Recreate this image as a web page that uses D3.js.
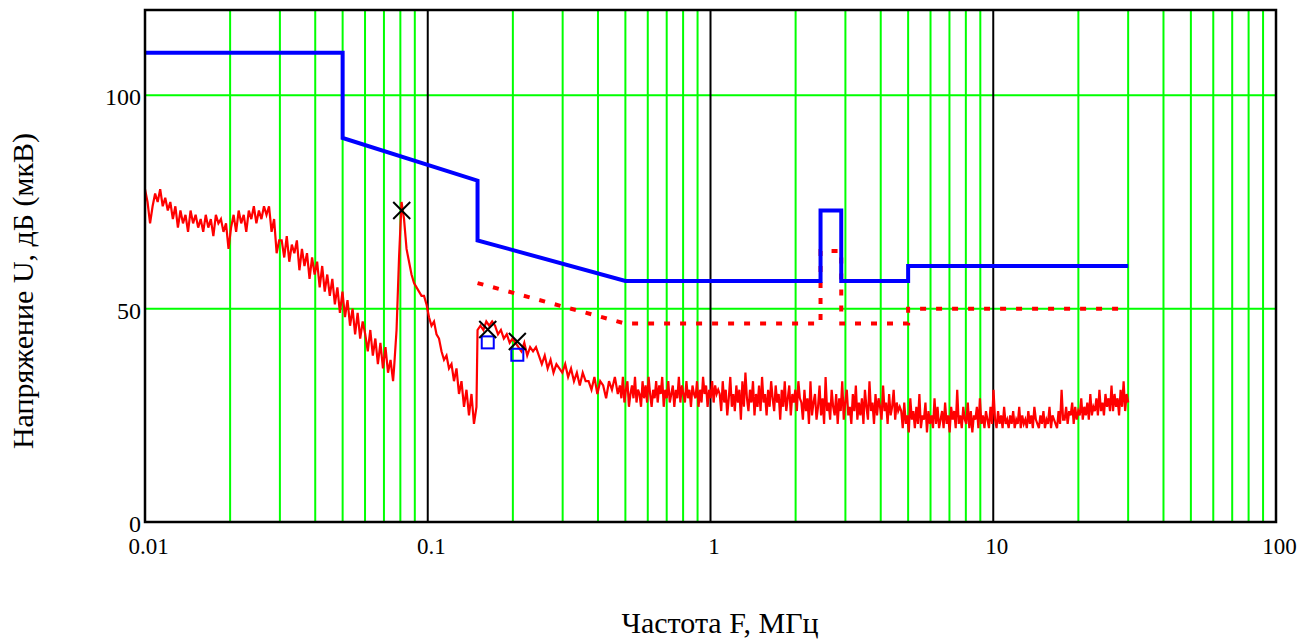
<!DOCTYPE html>
<html><head><meta charset="utf-8">
<script src="https://cdn.jsdelivr.net/npm/d3@7"></script>
<style>
html,body{margin:0;padding:0;background:#fff;}
svg{display:block;}
svg text{font-family:"Liberation Serif","Times New Roman",Tinos,"DejaVu Serif",serif !important;}
</style></head>
<body><svg id="c" width="1311" height="639"></svg>
<script>
// ---------- data ----------
const xTickValues = [0.01, 0.1, 1, 10, 100];
const xTickLabels = ["0.01", "0.1", "1", "10", "100"];
const yTickValues = [0, 50, 100];
const yTickLabels = ["0", "50", "100"];

// Quasi-peak limit (blue)
const limitQPFreq  = [0.01, 0.05, 0.05, 0.15, 0.15, 0.5, 2.45, 2.45, 2.9, 2.9, 5, 5, 30];
const limitQPLevel = [110, 110, 90, 80, 66, 56.5, 56.5, 73, 73, 56.5, 56.5, 60, 60];

// Average limit (red dotted)
const limitAvFreq  = [0.15, 0.5, 2.45, 2.45, 2.9, 2.9, 5, 5, 30];
const limitAvLevel = [56, 46.5, 46.5, 63.5, 63.5, 46.5, 46.5, 50, 50];

const traceAStart = 0.01, traceAEnd = 0.0754;
const traceA = [78,75,70,74,77,75,78,74,76,73,
  75,71,74,69,73,70,72,68,73,70,72,69,
  71,68,72,69,71,67,72,70,71,68,70,64,
  69,72,68,73,70,72,68,73,71,74,70,73,71,74,
  72,74,68,71,63,66,
  66,62,67,61,65,63,66,59,64,60,63,57,62,58,61,55,60,54,58,53,
  57,51,55,49,54,48,52,46,50,44,49,43,47,
  44,40,45,39,43,37,42,36,41,35,38,33];
const traceBStart = 0.0760, traceBEnd = 0.1487;
const traceB = [36,45,62,75,71,64,61,58,56,55,54,53,53,51,48,46,47,44,43,40,
  38,39,36,37,33,36,30,33,27,31,25,30,23,27];
const traceCStart = 0.15, traceCEnd = 0.47;
const traceC = [45,46,45,47,46,47,46,
  44,45,43,44,42,43,42,
  41,40,42,39,41,40,41,
  39,37,39,36,38,35,37,36,
  35,37,34,36,33,35,32,35,33,
  33,31,34,30,33,32,29,33,31,34,30];
const traceDStart = 0.478, traceDEnd = 30;
const traceD = [
  32,29,34,28,31,33,27,30,32,29,34,28,31,30,27,33,29,32,28,34,30,27,31,29,33,28,32,30,34,27,31,29,33,28,30,32,27,31,29,34,28,32,30,28,33,29,31,27,32,30,
  29,33,27,31,28,34,30,32,27,31,29,33,28,32,30,31,
  30,26,33,28,31,25,29,34,27,30,26,32,28,31,24,33,27,35,29,26,31,28,33,25,30,27,32,26,34,28,30,25,31,27,33,29,26,32,28,30,24,31,27,33,26,29,32,25,30,28,31,26,33,29,
  28,24,31,26,29,23,33,25,28,30,24,27,32,25,29,23,34,26,28,24,31,27,25,30,23,29,26,33,24,28,31,25,27,23,30,26,32,24,28,25,29,23,31,27,24,33,26,28,23,30,25,29,27,24,32,26,28,23,30,25,27,31,24,28,26,27,
  26,22,28,23,25,21,29,24,26,22,27,23,30,22,25,24,28,21,26,23,25,22,29,23,27,22,24,26,22,28,23,25,21,27,24,26,22,31,23,25,22,27,24,23,28,22,26,21,25,24,27,22,29,23,25,22,26,24,22,27,23,31,
  24,22,26,23,25,22,27,23,24,22,25,23,26,22,24,23,27,22,25,23,24,22,26,23,25,22,27,24,23,22,25,23,26,22,24,23,27,22,25,24,23,22,26,23,31,24,
  24,27,23,26,25,28,23,27,24,26,25,29,24,27,25,28,24,30,25,27,26,29,25,31,26,28,25,30,27,29,26,32,26,30,27,29,25,31,27,33,26,30,28];

// Peak markers
const peakFreq  = [0.0809, 0.163, 0.2074];
const peakLevel = [73, 45.1, 42.3];
const avgMarkFreq  = [0.163, 0.2074];
const avgMarkLevel = [42.1, 39.2];

const xTitle = "Частота F, МГц";
const yTitle = "Напряжение U, дБ (мкВ)";

// ---------- layout ----------
const FONT = '"Liberation Serif","Times New Roman",Tinos,"DejaVu Serif",serif';
const L = 145, R = 1276, T = 10, B = 522;
const svg = d3.select("#c");
const x = d3.scaleLog().domain([0.01, 100]).range([L, R]);
const y = d3.scaleLinear().domain([0, 120]).range([B, T]);

// grid
const minor = [];
[0.01, 0.1, 1, 10].forEach(d => { for (let k = 2; k <= 9; k++) minor.push(d * k); });
const g = svg.append("g");
g.selectAll("line.minor").data(minor).enter().append("line")
  .attr("x1", d => x(d)).attr("x2", d => x(d)).attr("y1", T).attr("y2", B)
  .attr("stroke", "#00ff00").attr("stroke-width", 2);
g.selectAll("line.h").data([50, 100]).enter().append("line")
  .attr("x1", L).attr("x2", R).attr("y1", d => y(d)).attr("y2", d => y(d))
  .attr("stroke", "#00ff00").attr("stroke-width", 2);
g.selectAll("line.dec").data([0.1, 1, 10]).enter().append("line")
  .attr("x1", d => x(d)).attr("x2", d => x(d)).attr("y1", T).attr("y2", B)
  .attr("stroke", "#000").attr("stroke-width", 2);

// trace
function seg(f0, f1, levels) {
  const n = levels.length - 1;
  return levels.map((v, i) => [f0 * Math.pow(f1 / f0, i / n), v]);
}
const trace = [].concat(
  seg(traceAStart, traceAEnd, traceA),
  seg(traceBStart, traceBEnd, traceB),
  seg(traceCStart, traceCEnd, traceC),
  seg(traceDStart, traceDEnd, traceD));
const line = d3.line().x(d => x(d[0])).y(d => y(d[1]));
svg.append("path").datum(trace).attr("d", line)
  .attr("fill", "none").attr("stroke", "#ff0000").attr("stroke-width", 2.2).attr("stroke-linejoin", "miter");

// limits
svg.append("path").datum(limitAvFreq.map((f, i) => [f, limitAvLevel[i]])).attr("d", line)
  .attr("fill", "none").attr("stroke", "#ff0000").attr("stroke-width", 4).attr("stroke-dasharray", "6,10");
svg.append("path").datum(limitQPFreq.map((f, i) => [f, limitQPLevel[i]])).attr("d", line)
  .attr("fill", "none").attr("stroke", "#0000ff").attr("stroke-width", 4).attr("stroke-linejoin", "miter");

// markers
avgMarkFreq.forEach((f, i) => {
  svg.append("rect").attr("x", x(f) - 6).attr("y", y(avgMarkLevel[i]) - 6).attr("width", 12).attr("height", 12)
    .attr("fill", "none").attr("stroke", "#0000ff").attr("stroke-width", 2);
});
peakFreq.forEach((f, i) => {
  const cx = x(f), cy = y(peakLevel[i]), s = 8.5;
  svg.append("path").attr("d", `M${cx - s},${cy - s}L${cx + s},${cy + s}M${cx - s},${cy + s}L${cx + s},${cy - s}`)
    .attr("stroke", "#000").attr("stroke-width", 2).attr("fill", "none");
});

// frame
svg.append("rect").attr("x", L).attr("y", T).attr("width", R - L).attr("height", B - T)
  .attr("fill", "none").attr("stroke", "#000").attr("stroke-width", 2.5);

// axes
const xAxis = d3.axisBottom(x).tickValues(xTickValues).tickFormat((d, i) => xTickLabels[i])
  .tickSizeInner(0).tickSizeOuter(0).tickPadding(16);
const xa = svg.append("g").attr("transform", `translate(0,${B})`).call(xAxis);
xa.attr("font-family", FONT);
xa.select(".domain").remove();
xa.selectAll("text").attr("font-size", 23).attr("font-family", FONT).attr("fill", "#000").attr("dx", 3);

const yAxis = d3.axisLeft(y).tickValues(yTickValues).tickFormat((d, i) => yTickLabels[i])
  .tickSizeInner(0).tickSizeOuter(0).tickPadding(4);
const ya = svg.append("g").attr("transform", `translate(${L},0)`).call(yAxis);
ya.attr("font-family", FONT);
ya.select(".domain").remove();
ya.selectAll("text").attr("font-size", 24).attr("font-family", FONT).attr("fill", "#000").attr("dy", "0.4em");

// titles
svg.append("text").attr("x", 720).attr("y", 633).attr("text-anchor", "middle").attr("font-family", FONT)
  .attr("font-size", 30).attr("fill", "#000").text(xTitle);
svg.append("text").attr("transform", "translate(33,291) rotate(-90)").attr("text-anchor", "middle").attr("font-family", FONT)
  .attr("font-size", 30).attr("fill", "#000").text(yTitle);
</script>
</body></html>
